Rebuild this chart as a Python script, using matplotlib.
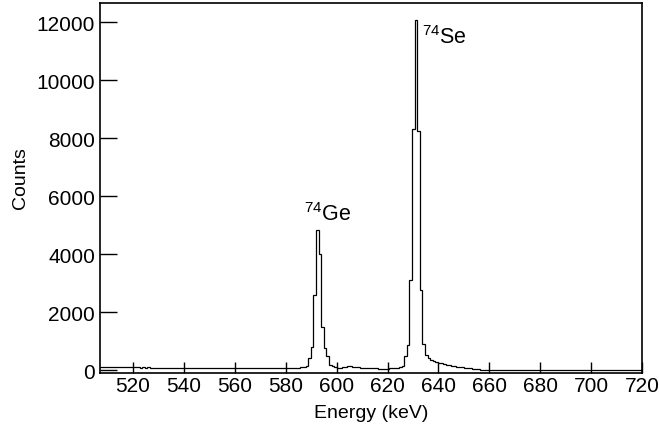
import numpy as np
import matplotlib
matplotlib.use("Agg")
import matplotlib.pyplot as plt

plt.rcParams['font.family'] = ['Liberation Sans', 'DejaVu Sans']
plt.rcParams['mathtext.fontset'] = 'custom'
plt.rcParams['mathtext.rm'] = 'Liberation Sans'
plt.rcParams['mathtext.it'] = 'Liberation Sans'

# Histogram binning (keV)
bin_start = 506.22
bin_width = 1.02
n_bins = 210

# Counts per bin, by region
counts_low_a = [122, 124, 120, 122, 123, 119, 120, 122, 119, 117, 118, 116, 112]
counts_low_b = [95, 92, 92, 89, 90, 88, 90, 87, 88, 88, 85, 86, 86, 84, 84, 82, 83, 82]
counts_low_c = [80, 78, 78, 76, 77, 75, 76, 75, 73, 75, 73, 72, 73, 71, 72, 71, 70, 71, 69, 70]
counts_low_d = [70, 70, 69, 70, 68, 69, 70, 68, 69, 69, 67, 68, 68, 67, 68, 69, 67, 68, 68, 71,
                71, 73, 73, 76, 80, 86]
counts_pre_ge = [85, 90, 100]
counts_ge = [140, 410, 780, 2600, 4820, 4000, 1500, 760, 480, 180, 150]
counts_bump = [95, 80, 85, 100, 115, 125, 125, 115, 100, 90]
counts_mid = [80, 75, 70, 65, 62, 60, 58, 55, 55, 52, 55, 58, 60, 62, 70, 90]
counts_se = [140, 480, 870, 3110, 8310, 12080, 8250, 2770, 900, 530, 410]
counts_tail = [360, 320, 290, 260, 240, 215, 190, 170, 150, 135, 120, 110, 100, 85, 70, 58,
               45, 35, 27, 20, 15, 11, 8]
counts_high = [6, 5, 5, 4, 3, 3, 2, 2, 2, 1, 1, 1, 0, 1, 0, 0, 1, 0, 0, 0,
               0, 0, 1, 0, 0, 0, 0, 0, 0, 0, 0, 0, 0, 0, 0, 0, 0, 0, 0, 0,
               0, 0, 0, 0, 0, 0, 0, 0, 0, 0, 0, 0, 0, 0, 0, 0, 0, 0, 0]

x_ticks = [520, 540, 560, 580, 600, 620, 640, 660, 680, 700, 720]
y_ticks = [0, 2000, 4000, 6000, 8000, 10000, 12000]

labels = [r'$^{74}$Ge', r'$^{74}$Se']
label_pos = [(587.2, 5400), (633.6, 11500)]

counts = np.array(counts_low_a + counts_low_b + counts_low_c + counts_low_d + counts_pre_ge
                  + counts_ge + counts_bump + counts_mid + counts_se + counts_tail + counts_high,
                  dtype=float)
edges = bin_start + bin_width * np.arange(n_bins + 1)

fig = plt.figure(figsize=(6.59, 4.31), dpi=100)
ax = fig.add_axes([100 / 659, 1 - 374 / 431, 542 / 659, 370 / 431])

ax.stairs(counts, edges, color='black', linewidth=0.9)

ax.set_xlim(507, 720)
ax.set_ylim(-100, 12660)
ax.set_xticks(x_ticks)
ax.set_yticks(y_ticks)
ax.tick_params(axis='both', direction='in', labelsize=15, width=1.0, color='black')
ax.tick_params(axis='x', length=7.7, pad=2.5)
ax.tick_params(axis='y', length=12, pad=3.5)
for s in ax.spines.values():
    s.set_linewidth(1.2)

for txt, (xx, yy) in zip(labels, label_pos):
    ax.text(xx, yy, txt, fontsize=15.5, ha='left', va='center')

ax.set_xlabel('Energy (keV)', fontsize=14)
ax.set_ylabel('Counts', fontsize=14)
ax.xaxis.set_label_coords(0.5, -0.084)
ax.yaxis.set_label_coords(-0.131, 0.53)

fig.savefig('out.png', dpi=100)
